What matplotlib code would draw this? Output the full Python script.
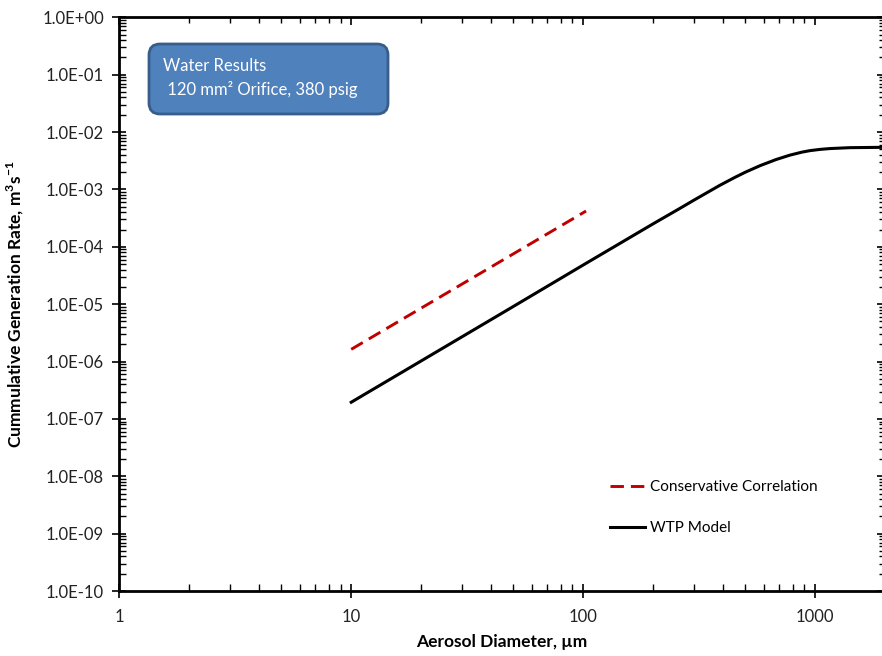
import matplotlib
matplotlib.use("Agg")
import matplotlib.pyplot as plt
import numpy as np
from matplotlib.ticker import LogLocator, FuncFormatter, NullFormatter
from matplotlib.patches import FancyBboxPatch
from matplotlib.transforms import IdentityTransform

plt.rcParams['font.family'] = ['Lato', 'DejaVu Sans']
plt.rcParams['mathtext.fontset'] = 'custom'
plt.rcParams['mathtext.rm'] = 'Lato'
plt.rcParams['mathtext.bf'] = 'Lato:bold'

# conservative correlation (straight line on log-log)
cons_d = [10, 103]
cons_rate = [1.63e-6, 4.2e-4]

# WTP model curve
wtp_d = [10, 20, 50, 100, 200, 262, 300, 389, 450, 500, 579, 680,
         780, 880, 951, 1050, 1159, 1413, 2000]
wtp_rate = [1.95e-7, 1.02e-6, 9.1e-6, 4.8e-5, 2.5e-4, 4.69e-4, 6.47e-4,
            1.18e-3, 1.61e-3, 1.99e-3, 2.59e-3, 3.32e-3, 3.96e-3, 4.47e-3,
            4.74e-3, 4.98e-3, 5.15e-3, 5.34e-3, 5.42e-3]

fig = plt.figure(figsize=(8.82, 6.56), dpi=100)
ax = fig.add_axes([119.3/882, 1 - 591/656, 765.5/882, 573.7/656])

ax.plot(cons_d, cons_rate, color='#C00000', lw=2.1, dashes=(4.6, 2.4),
        label='Conservative Correlation')
ax.plot(wtp_d, wtp_rate, color='black', lw=2.2, label='WTP Model',
        solid_joinstyle='round')

ax.set_xscale('log')
ax.set_yscale('log')
ax.set_xlim(1, 2000)
ax.set_ylim(1e-10, 1)


def log_ticks(axis):
    axis.set_major_locator(LogLocator(base=10, numticks=20))
    axis.set_minor_locator(LogLocator(base=10, subs=np.arange(2, 10), numticks=200))
    axis.set_minor_formatter(NullFormatter())


log_ticks(ax.xaxis)
log_ticks(ax.yaxis)
ax.yaxis.set_major_formatter(FuncFormatter(lambda v, p: f'{v:.1E}'))
ax.xaxis.set_major_formatter(FuncFormatter(lambda v, p: f'{v:g}'))

ax.tick_params(which='major', direction='inout', length=10, width=1.2,
               labelsize=12, pad=6, colors='black', labelcolor='#222222')
ax.tick_params(axis='x', which='major', pad=8)
ax.tick_params(which='minor', direction='in', length=5, width=1.0)
for s in ax.spines.values():
    s.set_linewidth(2)
ax.spines['right'].set_visible(False)

# mirrored ticks on top / right, pointing inwards only
top = ax.secondary_xaxis('top')
top.set_xscale('log')
log_ticks(top.xaxis)
top.xaxis.set_major_formatter(NullFormatter())
top.tick_params(which='major', direction='in', length=6, width=1.2)
top.tick_params(which='minor', direction='in', length=4, width=1.0)
top.spines['top'].set_visible(False)

right = ax.secondary_yaxis('right')
right.set_yscale('log')
log_ticks(right.yaxis)
right.yaxis.set_major_formatter(NullFormatter())
right.tick_params(which='major', direction='in', length=6, width=1.2)
right.tick_params(which='minor', direction='in', length=4, width=1.0)
right.spines['right'].set_visible(False)

ax.set_xlabel('Aerosol Diameter, µm', fontsize=12.5, fontweight='bold')
ax.xaxis.set_label_coords(0.5, -(634 - 591) / 573.7)
ax.set_ylabel('Cummulative Generation Rate, m' + r'$^{\mathbf{3}}$' + 's'
              + r'$^{\mathbf{-1}}$', fontsize=12.5, fontweight='bold')
ax.yaxis.set_label_coords(-(119.3 - 26) / 765.5, 0.5)

ax.legend(loc='upper left', bbox_to_anchor=((604 - 119.3) / 765.5, 1 - (474 - 17.3) / 573.7),
          frameon=False, fontsize=11, handlelength=2.3, handletextpad=0.3,
          labelspacing=1.75, borderaxespad=0)

# info box in pixel coordinates
box = FancyBboxPatch((149, 656 - 114), 239, 70,
                     boxstyle='round,pad=0,rounding_size=11',
                     transform=IdentityTransform(), facecolor='#4F81BD',
                     edgecolor='#385D8A', lw=2, zorder=5)
fig.patches.append(box)
fig.text(163 / 882, 1 - 66 / 656, 'Water Results', color='white', fontsize=12,
         va='center', ha='left', zorder=6)
fig.text(163 / 882, 1 - 89 / 656, ' 120 mm² Orifice, 380 psig', color='white',
         fontsize=12, va='center', ha='left', zorder=6)

fig.savefig('out.png', dpi=100)
